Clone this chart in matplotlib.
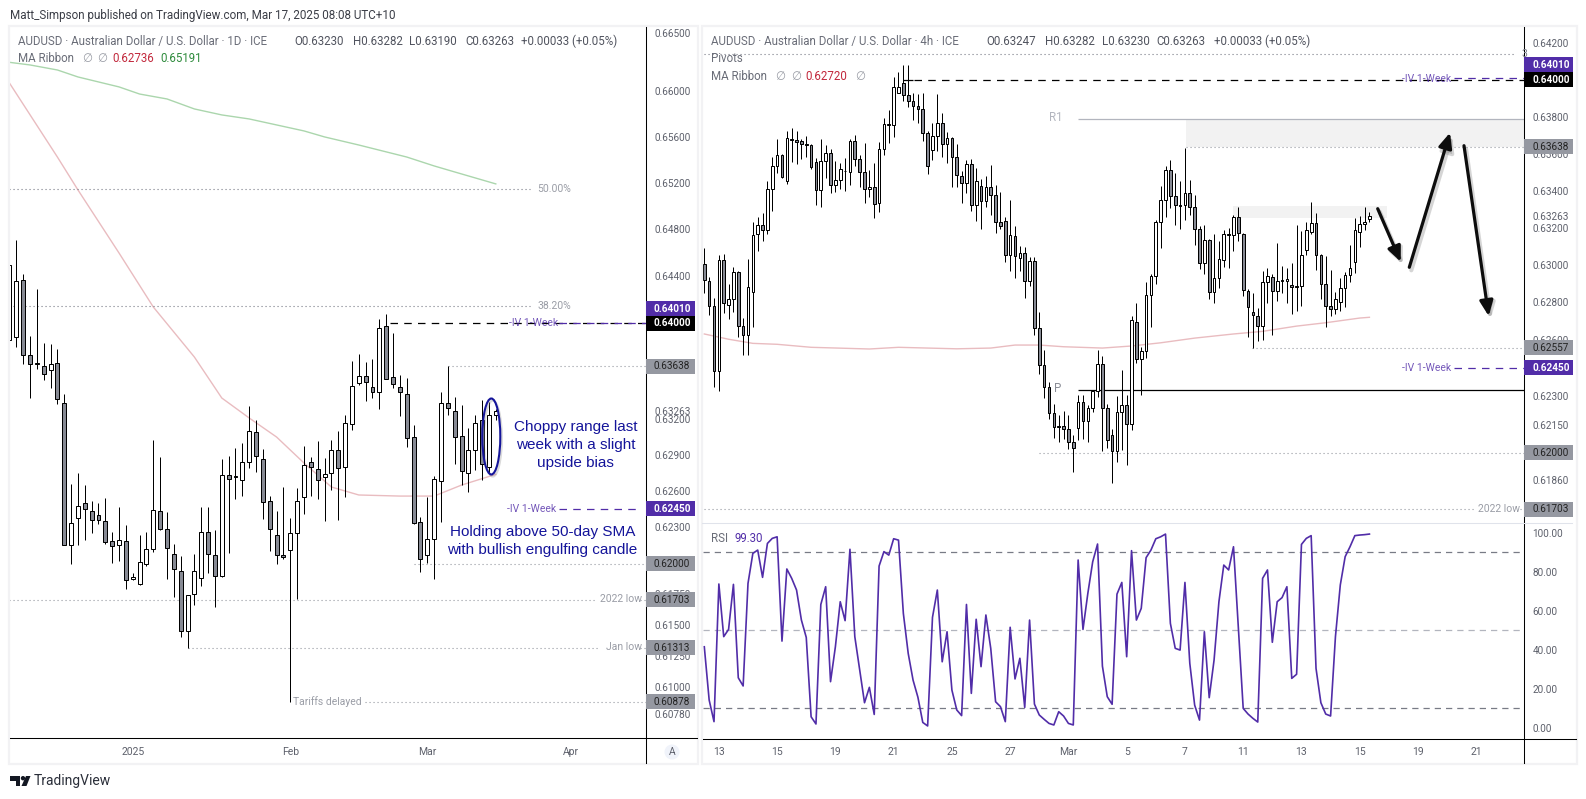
import numpy as np
import matplotlib
matplotlib.use("Agg")
import matplotlib.pyplot as plt
from matplotlib.lines import Line2D
from matplotlib.patches import Rectangle, Ellipse, Circle, Polygon, FancyArrowPatch
from matplotlib.ticker import NullLocator
from matplotlib.transforms import Affine2D

plt.rcParams['font.family'] = ['Roboto', 'DejaVu Sans']

W, H = 1586, 799

# daily AUDUSD candles, in 1e-5 of a price unit
daily_open = [63860, 63888, 64365, 63730, 63663, 63638, 63604, 63663, 63327, 62150, 62372, 62496, 62430, 62397, 62347, 62183, 62150, 62183, 61871, 61830, 61994, 62117, 62430, 62281, 62076, 61936, 61447, 61748, 61879, 62257,
              62068, 61896, 62727, 62719, 62692, 62835, 63085, 62860, 62512, 62232, 62068, 62109, 62248, 62545, 62835, 62777, 62711, 62744, 62935, 62794, 63152, 63495, 63554, 63461, 63419, 63975, 63545, 63461, 63403, 63043,
              62339, 62068, 62199, 62678, 63327, 63260, 63052, 62744, 62935, 63185, 62794, 63230]
daily_high = [64496, 64709, 64419, 63893, 64289, 63832, 63823, 63784, 63403, 62653, 62744, 62645, 62515, 62496, 62540, 62257, 62463, 62314, 61920, 62232, 62257, 63018, 62877, 62421, 62158, 62059, 61740, 62076, 62463, 62463,
              62273, 62860, 62888, 62955, 62993, 63305, 63185, 62946, 62554, 62430, 62631, 62372, 62620, 62971, 62877, 63010, 62871, 63018, 63096, 63227, 63680, 63739, 63671, 63697, 64034, 64077, 63916, 63562, 63537, 63143,
              62380, 62545, 62719, 63419, 63638, 63378, 63311, 63118, 63227, 63352, 63336, 63282]
daily_low = [63851, 63803, 63657, 63375, 63618, 63523, 63459, 63325, 62150, 61999, 62152, 62194, 62254, 62328, 62161, 62007, 62024, 61795, 61868, 61827, 61983, 62098, 62279, 61876, 61729, 61404, 61309, 61664, 61819, 61920,
             61648, 61893, 62089, 62532, 62556, 62791, 62755, 62369, 62103, 61999, 62040, 60879, 61713, 62410, 62559, 62532, 62353, 62609, 62361, 62551, 63107, 63484, 63350, 63375, 63283, 63529, 63453, 63224, 62966, 62328,
             61934, 62002, 61876, 62344, 63233, 62824, 62645, 62592, 62772, 62689, 62744, 63190]
daily_close = [64496, 64357, 63730, 63655, 63660, 63571, 63655, 63361, 62150, 62331, 62471, 62446, 62355, 62355, 62180, 62141, 62191, 61863, 61893, 62010, 62117, 62438, 62281, 62125, 61953, 61447, 61740, 61936, 62257, 62076,
               61896, 62727, 62700, 62716, 62835, 63093, 62885, 62504, 62281, 62068, 62057, 62248, 62512, 62810, 62794, 62686, 62736, 62935, 62786, 63160, 63470, 63554, 63503, 63419, 63958, 63529, 63487, 63419, 63035, 62331,
               62035, 62199, 62694, 63327, 63285, 63043, 62761, 62935, 63160, 62819, 63227, 63263]

# 4h candles
h4_open = [63003, 62912, 62778, 62432, 63025, 62784, 62816, 62960, 62672, 62624, 62853, 63164, 63213, 63186, 63407, 63531, 63591, 63450, 63677, 63672, 63666, 63650, 63645, 63553, 63401, 63558, 63601, 63428, 63455, 63508,
           63499, 63666, 63569, 63499, 63407, 63418, 63331, 63623, 63755, 63753, 63931, 63982, 63916, 63884, 63856, 63840, 63710, 63618, 63694, 63764, 63650, 63683, 63580, 63477, 63439, 63542, 63321, 63423, 63342, 63418,
           63374, 63229, 63234, 63052, 63154, 63035, 63062, 62912, 63019, 62661, 62464, 62347, 62209, 62140, 62140, 62125, 62056, 62130, 62267, 62167, 62236, 62326, 62469, 62236, 62093, 62008, 62215, 62252, 62151, 62693,
           62496, 62538, 62837, 62939, 63229, 63347, 63509, 63369, 63321, 63321, 63385, 63310, 63191, 63009, 63132, 62853, 62928, 63025, 63164, 63159, 63256, 63164, 62859, 62746, 62725, 62672, 62907, 62934, 62859, 62918,
           62912, 62891, 62885, 62885, 63078, 63175, 63224, 63052, 62896, 62778, 62762, 62800, 62875, 62944, 63014, 63179, 63218, 63247]
h4_high = [63089, 62934, 62821, 63052, 63057, 62896, 62987, 62966, 62714, 63030, 63229, 63256, 63277, 63452, 63580, 63677, 63596, 63721, 63737, 63721, 63677, 63694, 63650, 63574, 63677, 63645, 63623, 63558, 63547, 63574,
           63677, 63699, 63591, 63656, 63509, 63547, 63661, 63791, 63835, 64014, 64042, 64082, 64082, 63927, 63922, 63927, 63721, 63764, 63922, 63818, 63715, 63688, 63650, 63504, 63564, 63569, 63520, 63461, 63477, 63537,
           63428, 63391, 63256, 63347, 63207, 63100, 63095, 63041, 63041, 62746, 62544, 62377, 62257, 62199, 62220, 62199, 62093, 62305, 62305, 62252, 62331, 62544, 62512, 62257, 62125, 62299, 62437, 62305, 62725, 62794,
           62560, 62907, 62950, 63240, 63423, 63531, 63564, 63493, 63450, 63629, 63455, 63374, 63207, 63213, 63138, 63166, 63127, 63186, 63197, 63267, 63310, 63170, 62869, 62848, 62768, 62966, 62982, 62950, 63116, 62993,
           62982, 63009, 63213, 63181, 63229, 63337, 63277, 63057, 63046, 62971, 62853, 62928, 62960, 63105, 63250, 63263, 63310, 63282]
h4_low = [62852, 62732, 62351, 62326, 62741, 62711, 62746, 62613, 62521, 62521, 62670, 63077, 63130, 63164, 63292, 63493, 63470, 63434, 63556, 63546, 63569, 63583, 63515, 63324, 63313, 63466, 63385, 63394, 63407, 63396,
          63428, 63533, 63418, 63335, 63364, 63250, 63283, 63591, 63656, 63688, 63927, 63887, 63851, 63782, 63764, 63670, 63491, 63567, 63612, 63580, 63547, 63418, 63421, 63335, 63385, 63292, 63234, 63195, 63310, 63267,
          63173, 63191, 63018, 62969, 62932, 62969, 62825, 62889, 62625, 62416, 62292, 62181, 62077, 62059, 62072, 62022, 61901, 62066, 62075, 62059, 62215, 62298, 62012, 62028, 61843, 61954, 62015, 61938, 62123, 62475,
          62306, 62501, 62670, 62896, 63093, 63259, 63304, 63215, 63195, 63240, 63267, 63109, 62976, 62950, 62816, 62794, 62875, 62987, 62984, 63073, 63127, 62834, 62613, 62554, 62595, 62601, 62794, 62627, 62807, 62852,
          62794, 62736, 62752, 62778, 63052, 63164, 62971, 62818, 62666, 62729, 62736, 62752, 62773, 62910, 62955, 63098, 63188, 63230]
h4_close = [62918, 62778, 62432, 63025, 62794, 62816, 62960, 62672, 62624, 62880, 63159, 63213, 63186, 63407, 63531, 63591, 63472, 63683, 63672, 63661, 63650, 63645, 63526, 63401, 63558, 63601, 63428, 63455, 63515, 63504,
            63666, 63569, 63499, 63407, 63418, 63326, 63623, 63759, 63759, 63960, 63960, 63916, 63884, 63856, 63840, 63710, 63531, 63694, 63764, 63650, 63683, 63580, 63482, 63439, 63542, 63321, 63450, 63342, 63418, 63374,
            63229, 63207, 63052, 63159, 63046, 63062, 62912, 63019, 62661, 62464, 62347, 62209, 62135, 62135, 62125, 62056, 62024, 62267, 62167, 62236, 62326, 62469, 62236, 62066, 62008, 62215, 62252, 62151, 62704, 62496,
            62538, 62837, 62939, 63229, 63347, 63509, 63369, 63321, 63319, 63385, 63310, 63191, 63009, 63132, 62853, 62928, 63030, 63164, 63163, 63256, 63170, 62864, 62773, 62730, 62672, 62907, 62939, 62859, 62912, 62916,
            62923, 62880, 62884, 63052, 63186, 63224, 63052, 62896, 62778, 62762, 62816, 62875, 62944, 62982, 63186, 63218, 63229, 63263]

# moving averages, read at some bars only
ma50_bar = [0, 7, 10, 16, 21, 27, 31, 35, 39, 43, 47, 51, 57, 62, 66, 71]
ma50_val = [66066, 65423, 65139, 64598, 64139, 63716, 63372, 63205, 63046, 62830, 62631, 62565, 62556, 62556, 62647, 62736]
ma200_bar = [0, 3, 7, 10, 16, 19, 23, 27, 31, 35, 39, 43, 46, 51, 58, 62, 65, 71]
ma200_val = [66247, 66224, 66180, 66119, 66032, 65970, 65927, 65840, 65788, 65753, 65701, 65649, 65597, 65527, 65423, 65346, 65294, 65191]
ma4h_bar = [0, 5, 10, 15, 22, 34, 40, 46, 52, 59, 64, 69, 74, 82, 88, 94, 101, 109, 115, 122, 128, 135, 137]
ma4h_val = [62631, 62603, 62581, 62576, 62560, 62551, 62560, 62556, 62552, 62556, 62572, 62572, 62563, 62556, 62567, 62584, 62609, 62631, 62645, 62673, 62691, 62716, 62720]

rsi_val = [41.5, 14.2, 3.1, 73.7, 46.7, 50.4, 73.5, 25.6, 21.4, 74.0, 89.4, 91.1, 77.1, 94.5, 97.1, 97.9, 44.4, 81.4, 76.6, 70.6, 55.2, 46.3, 5.6, 1.9, 63.2, 72.3, 23.6, 41.5, 64.6, 54.9,
           91.5, 46.7, 29.6, 12.8, 20.7, 6.8, 82.9, 90.3, 88.5, 96.9, 96.2, 58.6, 38.1, 24.4, 15.6, 2.7, 0.9, 56.6, 70.6, 33.8, 49.2, 19.3, 9.1, 6.2, 63.2, 17.6, 55.6, 31.3, 57.8, 40.7,
           13.3, 10.8, 3.1, 51.5, 25.0, 35.6, 10.4, 55.2, 12.1, 6.5, 4.3, 2.2, 1.4, 8.2, 6.0, 2.2, 1.4, 86.0, 50.4, 68.9, 85.1, 94.2, 31.6, 15.9, 12.0, 68.5, 74.5, 36.4, 90.8, 55.2,
           61.2, 87.2, 91.1, 96.9, 97.9, 99.3, 53.5, 40.7, 39.8, 74.5, 33.0, 11.6, 3.9, 49.2, 15.4, 34.7, 64.6, 83.4, 80.9, 92.8, 51.8, 9.9, 7.0, 4.8, 2.9, 76.6, 80.9, 43.8, 64.6, 66.7,
           72.3, 25.3, 27.4, 94.0, 97.1, 98.5, 30.4, 12.8, 7.0, 6.0, 46.7, 73.2, 87.7, 92.8, 98.5, 98.8, 99.0, 99.3]

daily_ticks = [0.665, 0.66, 0.656, 0.652, 0.648, 0.644, 0.63263, 0.632, 0.629, 0.626, 0.623, 0.6175, 0.615, 0.6125, 0.61, 0.6078]
h4_ticks = [0.642, 0.638, 0.636, 0.634, 0.63263, 0.632, 0.63, 0.628, 0.626, 0.623, 0.6215, 0.6186]
rsi_ticks = [100, 80, 60, 40, 20, 0]
daily_xticks = [18, 41, 61, 82]
daily_xlabels = ['2025', 'Feb', 'Mar', 'Apr']
h4_xticks = [3, 15, 27, 39, 51, 63, 75, 87, 99, 111, 123, 135, 147, 159]
h4_xlabels = ['13', '15', '19', '21', '25', '27', 'Mar', '5', '7', '11', '13', '15', '19', '21']

PURPLE = '#512da8'
TAG_GREY = '#9598a1'
LABEL_GREY = '#9a9da6'
AXIS_TEXT = '#5d606b'
LEGEND_GREY = '#6a6d78'
BLUE = '#14149a'
PINK = '#e9bcc0'
GREEN = '#abd6ad'
DOTTED = (0, (1, 2.6))

fig = plt.figure(figsize=(W / 100, H / 100), dpi=100)
# pixel coordinates measured from the top left of the picture
px = Affine2D().scale(1, -1).translate(0, H)


def add_axes(x0, y0, x1, y1):
    ax = fig.add_axes([x0 / W, 1 - y1 / H, (x1 - x0) / W, (y1 - y0) / H])
    for s in ax.spines.values():
        s.set_visible(False)
    return ax


def line(x0, y0, x1, y1, color='black', lw=0.75, zorder=4):
    fig.add_artist(Line2D([x0, x1], [y0, y1], transform=px, color=color, lw=lw, zorder=zorder))


def label(x, y, s, color=LEGEND_GREY, size=8.3, ha='left', **kw):
    fig.text(x, y, s, transform=px, color=color, fontsize=size, ha=ha, va='center', zorder=8, **kw)


def candles(ax, o, h, l, c, width):
    o, h, l, c = [np.array(v) / 1e5 for v in (o, h, l, c)]
    x = np.arange(len(o))
    ax.vlines(x, l, h, color='black', lw=0.72, zorder=4)
    colors = ['white' if cl > op else '#878a94' for op, cl in zip(o, c)]
    ax.bar(x, np.abs(c - o), width, bottom=np.minimum(o, c), color=colors,
           edgecolor='black', linewidth=0.72, zorder=5)


def price_axis(ax, ticks, xlim, ylim):
    ax.set_yscale('log')
    ax.set_xlim(*xlim)
    ax.set_ylim(*ylim)
    ax.yaxis.tick_right()
    ax.set_yticks(ticks)
    ax.set_yticklabels(['%.5f' % t for t in ticks])
    ax.yaxis.set_minor_locator(NullLocator())
    ax.tick_params(axis='y', length=0, pad=6, labelsize=7.2, labelcolor=AXIS_TEXT)
    ax.tick_params(axis='x', length=0, pad=6, labelsize=7.5, labelcolor=AXIS_TEXT)


def tag(ax, price, text, face, tcolor, x0, yshift=0):
    y = H - ax.transData.transform((0, price))[1] + yshift
    fig.add_artist(Rectangle((x0, y - 7.5), 49, 15, transform=px, facecolor=face, edgecolor='none', zorder=6))
    label(x0 + 8, y, text, color=tcolor, size=7.2, fontweight='bold' if tcolor == 'white' else 'normal')


# frames around both panels
for x0, x1 in ((9, 698), (701.5, 1577)):
    fig.add_artist(Rectangle((x0, 26), x1 - x0, 738, transform=px, fill=False, edgecolor='#f2f2f4', lw=1.6, zorder=1))

# ---- daily panel ----
ax = add_axes(10, 27, 646, 738.3)
price_axis(ax, daily_ticks, (0.08, 92.93), (0.60585, 0.66557))
ax.set_xticks(daily_xticks)
ax.set_xticklabels(daily_xlabels)
ax.plot(ma200_bar, np.array(ma200_val) / 1e5, color=GREEN, lw=1, zorder=2)
ax.plot(ma50_bar, np.array(ma50_val) / 1e5, color=PINK, lw=1, zorder=2)
candles(ax, daily_open, daily_high, daily_low, daily_close, 0.58)

ax.hlines(0.65144, 0, 76, color='#787b86', lw=0.8, linestyle=DOTTED)
ax.hlines(0.64145, 0, 76, color='#787b86', lw=0.8, linestyle=DOTTED)
ax.hlines(0.63638, 64, 93, color=TAG_GREY, lw=0.8, linestyle=DOTTED)
ax.hlines(0.62, 59, 93, color=TAG_GREY, lw=0.8, linestyle=DOTTED)
ax.hlines(0.61703, 0, 85.6, color=TAG_GREY, lw=0.8, linestyle=DOTTED)
ax.hlines(0.61703, 92, 93, color=TAG_GREY, lw=0.8, linestyle=DOTTED)
ax.hlines(0.61313, 26, 86.2, color=TAG_GREY, lw=0.8, linestyle=DOTTED)
ax.hlines(0.61313, 92, 93, color=TAG_GREY, lw=0.8, linestyle=DOTTED)
ax.hlines(0.60878, 51.9, 93, color=TAG_GREY, lw=0.8, linestyle=DOTTED)
ax.hlines(0.64, 55.5, 93, color='black', lw=0.9, linestyle=(0, (6, 5)), zorder=3)
ax.hlines(0.64006, 80.2, 93, color=PURPLE, lw=0.9, linestyle=(0, (6, 5)), zorder=3)
ax.hlines(0.6245, 80.2, 92, color=PURPLE, lw=0.9, linestyle=(0, (6, 5)), zorder=3)

label(537, 189, '50.00%', color=LABEL_GREY, size=7.5)
label(537, 306, '38.20%', color=LABEL_GREY, size=7.5)
label(509, 322.5, '-IV 1-Week', color=PURPLE, size=7.5, alpha=0.8)
label(507, 508.5, '-IV 1-Week', color=PURPLE, size=7.5, alpha=0.8)
label(600, 599.5, '2022 low', color=LABEL_GREY, size=7.5)
label(606, 647.5, 'Jan low', color=LABEL_GREY, size=7.5)
label(293, 701.5, 'Tariffs delayed', color=LABEL_GREY, size=7.5)

tag(ax, 0.6401, '0.64010', PURPLE, 'white', 646, yshift=-13.5)
tag(ax, 0.64, '0.64000', 'black', 'white', 646)
tag(ax, 0.63638, '0.63638', TAG_GREY, '#222222', 646)
tag(ax, 0.6245, '0.62450', PURPLE, 'white', 646)
tag(ax, 0.62, '0.62000', TAG_GREY, '#222222', 646)
tag(ax, 0.61703, '0.61703', TAG_GREY, '#222222', 646)
tag(ax, 0.61313, '0.61313', TAG_GREY, '#222222', 646)
tag(ax, 0.60878, '0.60878', TAG_GREY, '#222222', 646)

line(646, 27, 646, 763)
line(10, 738.3, 697, 738.3)

for y, s in ((426.7, 'Choppy range last'), (444.7, 'week with a slight'), (462.7, 'upside bias')):
    label(575.4, y, s, color=BLUE, size=11, ha='center', family='Liberation Sans')
for y, s in ((531.7, 'Holding above 50-day SMA'), (549.7, 'with bullish engulfing candle')):
    label(542.5, y, s, color=BLUE, size=11, ha='center', family='Liberation Sans')
fig.add_artist(Ellipse((492.8, 438.5), 18, 76, transform=px, fill=False, edgecolor='#888888', lw=1.6, alpha=0.3, zorder=6))
fig.add_artist(Ellipse((491.3, 436.5), 18, 76, transform=px, fill=False, edgecolor=BLUE, lw=1.5, zorder=7))

label(18, 41.7, 'AUDUSD · Australian Dollar / U.S. Dollar · 1D · ICE')
for x, s in ((294.6, 'O0.63230'), (352.7, 'H0.63282'), (409, 'L0.63190'), (465, 'C0.63263'), (521, '+0.00033 (+0.05%)')):
    label(x, 41.7, s, color='#50535e')
label(18, 59, 'MA Ribbon')
label(82, 59, '∅', color='#9a9da6')
label(97, 59, '∅', color='#9a9da6')
label(112, 59, '0.62736', color='#c2283c')
label(160.7, 59, '0.65191', color='#2e8b3c')

# ---- 4h panel ----
ax2 = add_axes(702.7, 27, 1524.3, 522.7)
price_axis(ax2, h4_ticks, (-0.33, 168.9), (0.61633, 0.64289))
ax2.set_xticks([])
ax2.fill_between([99.2, 168.9], 0.63638, 0.63786, color='#f2f2f2', lw=0, zorder=1)
ax2.fill_between([108.9, 140.6], 0.63252, 0.63317, color='#f2f2f2', lw=0, zorder=1)
ax2.plot(ma4h_bar, np.array(ma4h_val) / 1e5, color=PINK, lw=1, zorder=2)
candles(ax2, h4_open, h4_high, h4_low, h4_close, 0.55)

ax2.hlines(0.6414, 0, 166.8, color='#787b86', lw=0.8, linestyle=DOTTED)
ax2.hlines(0.64, 41, 43, color='black', lw=0.9)
ax2.hlines(0.64, 43.2, 169, color='black', lw=0.9, linestyle=(0, (6, 5)), zorder=3)
ax2.hlines(0.64012, 154.4, 169, color=PURPLE, lw=0.9, linestyle=(0, (6, 5)), zorder=3)
ax2.hlines(0.6245, 154.4, 169, color=PURPLE, lw=0.9, linestyle=(0, (6, 5)), zorder=3)
ax2.hlines(0.63786, 77, 169, color='#b2b5be', lw=0.9, zorder=3)
ax2.hlines(0.63638, 99.2, 169, color=TAG_GREY, lw=0.8, linestyle=DOTTED)
ax2.hlines(0.62557, 112.9, 169, color=TAG_GREY, lw=0.8, linestyle=DOTTED)
ax2.hlines(0.62331, 77, 169, color='black', lw=0.9, zorder=3)
ax2.hlines(0.62, 69, 169, color=TAG_GREY, lw=0.8, linestyle=DOTTED)
ax2.hlines(0.61703, 0, 158.8, color=TAG_GREY, lw=0.8, linestyle=DOTTED)
ax2.hlines(0.61703, 168, 169, color=TAG_GREY, lw=0.8, linestyle=DOTTED)

label(1048.7, 117.7, 'R1', color='#b2b5be', size=8.3)
label(1054, 388, 'P', color='#8a8d96', size=8.3)
label(1401.7, 78.7, '-IV 1-Week', color=PURPLE, size=7.5, alpha=0.8)
label(1401.7, 368.3, '-IV 1-Week', color=PURPLE, size=7.5, alpha=0.8)
label(1478.3, 509, '2022 low', color=LABEL_GREY, size=7.5)
label(1521, 54, '3', color='#787b86', size=7.5)

tag(ax2, 0.6401, '0.64010', PURPLE, 'white', 1524.3, yshift=-13.5)
tag(ax2, 0.64, '0.64000', 'black', 'white', 1524.3)
tag(ax2, 0.63638, '0.63638', TAG_GREY, '#222222', 1524.3)
tag(ax2, 0.62557, '0.62557', TAG_GREY, '#222222', 1524.3)
tag(ax2, 0.6245, '0.62450', PURPLE, 'white', 1524.3)
tag(ax2, 0.62, '0.62000', TAG_GREY, '#222222', 1524.3)
tag(ax2, 0.61703, '0.61703', TAG_GREY, '#222222', 1524.3)

label(711, 41.7, 'AUDUSD · Australian Dollar / U.S. Dollar · 4h · ICE')
for x, s in ((986.7, 'O0.63247'), (1044.7, 'H0.63282'), (1102.3, 'L0.63230'), (1156.7, 'C0.63263'), (1214.3, '+0.00033 (+0.05%)')):
    label(x, 41.7, s, color='#50535e')
label(711, 59, 'Pivots')
label(711, 76, 'MA Ribbon')
label(774.7, 76, '∅', color='#9a9da6')
label(790.7, 76, '∅', color='#9a9da6')
label(805, 76, '0.62720', color='#c2283c')
label(854.7, 76, '∅', color='#9a9da6')

# hand drawn arrows
ARROW = '-|>,head_length=0.45,head_width=0.2'
for start, end in (((1377.7, 208.7), (1400.7, 261.7)), ((1409.3, 267.3), (1450, 132.7)), ((1464, 145.7), (1488.7, 316))):
    shadow = ((start[0] + 2, start[1] + 3), (end[0] + 2, end[1] + 3))
    fig.add_artist(FancyArrowPatch(*shadow, transform=px, arrowstyle=ARROW, mutation_scale=20,
                                   lw=3, color='#777777', alpha=0.3, shrinkA=0, shrinkB=0, zorder=6))
    fig.add_artist(FancyArrowPatch(start, end, transform=px, arrowstyle=ARROW, mutation_scale=20,
                                   lw=2.3, color='#0d0d0d', shrinkA=0, shrinkB=0, zorder=7))

# ---- RSI panel ----
ax3 = add_axes(702.7, 522.7, 1524.3, 738.7)
ax3.set_xlim(-0.33, 168.9)
ax3.set_ylim(-5.64, 105.13)
ax3.yaxis.tick_right()
ax3.set_yticks(rsi_ticks)
ax3.set_yticklabels(['%.2f' % t for t in rsi_ticks])
ax3.set_xticks(h4_xticks)
ax3.set_xticklabels(h4_xlabels)
ax3.tick_params(axis='y', length=0, pad=6, labelsize=7.2, labelcolor=AXIS_TEXT)
ax3.tick_params(axis='x', length=0, pad=6, labelsize=7.5, labelcolor=AXIS_TEXT)
ax3.axhline(90, color='#787b86', lw=0.9, linestyle=(0, (5, 4)))
ax3.axhline(50, color='#b2b5be', lw=0.9, linestyle=(0, (5, 4)))
ax3.axhline(10, color='#787b86', lw=0.9, linestyle=(0, (5, 4)))
ax3.plot(np.arange(len(rsi_val)), rsi_val, color=PURPLE, lw=1.2, zorder=3)
label(711, 538, 'RSI')
label(734.6, 538, '99.30', color=PURPLE)

line(1524.3, 27, 1524.3, 763)
line(702, 522.7, 1524, 522.7, color='#e0e3eb')
line(1524.3, 522.7, 1572, 522.7, color='#e0e3eb')
line(702.7, 738.7, 1576, 738.7)

# ---- header and footer ----
label(10, 15, 'Matt_Simpson published on TradingView.com, Mar 17, 2025 08:08 UTC+10', color='#3a3d46', size=8.4)
fig.add_artist(Circle((672, 752), 7.5, transform=px, facecolor='#f0f3fa', edgecolor='none', zorder=5))
label(672, 752, 'A', color=AXIS_TEXT, size=7.5, ha='center')

fig.add_artist(Polygon([(10, 776), (20, 776), (20, 786), (15.5, 786), (15.5, 780.5), (10, 780.5)], transform=px, facecolor='#131722', edgecolor='none', zorder=6))
fig.add_artist(Circle((23, 778.2), 2.2, transform=px, facecolor='#131722', edgecolor='none', zorder=6))
fig.add_artist(Polygon([(26, 776), (30.5, 776), (26.5, 786), (21.5, 786)], transform=px, facecolor='#131722', edgecolor='none', zorder=6))
label(33.5, 781, 'TradingView', color='#2a2e39', size=10)

fig.savefig('out.png', dpi=100)
